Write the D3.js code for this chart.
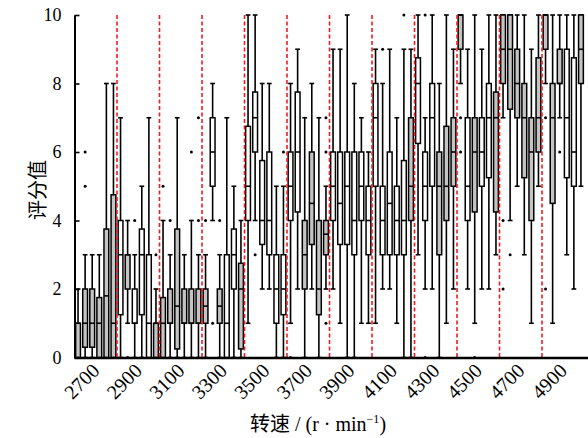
<!DOCTYPE html>
<html>
<head>
<meta charset="utf-8">
<script src="https://cdn.jsdelivr.net/npm/d3@7"></script>
<style>
  body { margin: 0; background: #fff; }
  svg text { font-family: "Liberation Serif", "Noto Sans CJK SC", serif; fill: #000; }
</style>
</head>
<body>
<div id="chart"></div>
<script>
// box statistics, one entry per speed bin (72 bins, 2600-5000 r/min)
let lowW = [0,0,0,0,0,0,0,1,0,0, 0,0,0,0,0,0,0,0,0,4, 0,0,0,0,1,4,2,2,0,0,
            1,2,0,2,0,2,2,1,0,0, 1,1,1,2,2,1,0,0,3,2, 2,0,1,2,8,2,1,2,2,3,
            7,4,5,3,1,5,8,1,7,3, 2,5];
let q1 = [0,0.3,0.3,0,0,0,1.25,2,1,1.25, 0,0,0,1,0.25,1,1,1,1,5, 1,0,2,0.25,4,6,3.3,3,1,1.25,
          4,4.25,2,3.3,1.25,3,4,3.3,3.3,3, 4,3,5,3,3,3,3,4,6.25,4, 5,3,4,5,9,4,4.25,5,5.25,4.25,
          8,7.25,7,5.25,4,6,9,4.5,8,5.25, 5,8];
let med = [1,1,1,1,1.8,1,3,3,1,3, 1,1,1,1,1.5,1,1,1,1.5,6, 1.5,1,3,2,5,7,4,4,2,2,
           5,6,3,4.5,2,3.6,5,4.5,5,4, 5,4,7,4,4.5,4,4,5,8,5, 7,5,5,6,10,5,6,6,7,7,
           9,9,8,7,6,7,10,7,8,7, 6,9];
let q3 = [1,2,2,1.75,3.75,4.75,4,3,2,3.75, 3,1,1.75,2,3.75,2,2,2,2,7, 2,3,3.75,2.75,6.75,7.75,5.75,6,3,3,
          6,7.75,4,6,4,4,6,6,6,6, 6,5,8,5,6,5,5.75,7,8.75,6, 8,6,6.75,7,10,7,7,7,8,7.75,
          10,10,9,8,7,8.75,10,8,9,9, 8.75,10];
let highW = [2,3,3,3,8,8,7,4,3,5, 7,2,4,3,7,3,4,3,3,8, 3,7,5,4,10,10,8,8,5,5,
             8,9,7,8,7,5,9,9,10,8, 7,6,9,8,9,7,9,9,10,7, 10,8,10,9,10,9,10,9,10,10,
             10,10,10,10,9,10,10,10,10,10, 10,10];
let outliers = [[],[5,6],[],[],[],[],[],[0],[4],[], [],[3],[5],[4],[],[],[6],[4,7],[4],[1],
                [4],[],[],[],[],[3],[],[],[],[6], [0],[],[],[],[],[1,6,7],[],[],[],[],
                [],[],[],[9],[],[],[10],[],[],[0,10], [],[],[],[],[6,7],[],[0],[],[],[],
                [2,4],[3],[],[],[],[],[2,7],[],[6],[], [],[]];
// 1 = grey box, 0 = white box
let shaded = [1,1,1,1,1,1,0,1,0,0, 0,1,1,1,1,1,1,1,1,0, 1,0,0,1,0,0,0,0,0,0,
              0,0,1,1,1,1,0,0,0,0, 0,0,0,0,0,0,0,1,0,0, 0,1,1,1,1,0,1,0,0,1,
              1,1,1,1,1,1,1,1,1,0, 0,1];
let tickLabels = ["2700","2900","3100","3300","3500","3700","3900","4100","4300","4500","4700","4900"];
let dividers = [2800, 3000, 3200, 3400, 3600, 3800, 4000, 4200, 4400, 4600, 4800];
let yTicks = [0, 2, 4, 6, 8, 10];

let width = 588, height = 438;
let svg = d3.select("#chart")
            .append("svg")
            .attr("width", width)
            .attr("height", height);

let x = d3.scaleLinear().domain([2600, 5000]).range([74.5, 584.5]);
let y = d3.scaleLinear().domain([0, 10]).range([357.5, 15]);

let step = (5000 - 2600) / med.length;
let boxW = 4.8, capW = 4.8;
let cx = i => x(2600 + (i + 0.5) * step);

// boxes
let g = svg.append("g");
med.forEach(function(m, i){
    let c = cx(i);
    // whiskers
    g.append("line")
     .attr("x1", c).attr("x2", c)
     .attr("y1", y(highW[i])).attr("y2", y(q3[i]))
     .attr("stroke", "#000").attr("stroke-width", 1.6);
    g.append("line")
     .attr("x1", c).attr("x2", c)
     .attr("y1", y(q1[i])).attr("y2", y(lowW[i]))
     .attr("stroke", "#000").attr("stroke-width", 1.6);
    // caps
    [highW[i], lowW[i]].forEach(function(v){
        g.append("line")
         .attr("x1", c - capW / 2).attr("x2", c + capW / 2)
         .attr("y1", y(v)).attr("y2", y(v))
         .attr("stroke", "#000").attr("stroke-width", 1.6);
    });
    // box
    g.append("rect")
     .attr("x", c - boxW / 2)
     .attr("y", y(q3[i]))
     .attr("width", boxW)
     .attr("height", Math.max(y(q1[i]) - y(q3[i]), 0.5))
     .attr("fill", shaded[i] ? "#c4c4c4" : "#fff")
     .attr("stroke", "#000")
     .attr("stroke-width", 1.5);
    // median
    g.append("line")
     .attr("x1", c - boxW / 2).attr("x2", c + boxW / 2)
     .attr("y1", y(m)).attr("y2", y(m))
     .attr("stroke", "#000").attr("stroke-width", 1.6);
    // outliers
    outliers[i].forEach(function(v){
        g.append("circle")
         .attr("cx", c).attr("cy", y(v))
         .attr("r", 1.5)
         .attr("fill", "#000");
    });
});

// red dashed dividers
svg.selectAll(".divider")
   .data(dividers)
   .enter().append("line")
   .attr("class", "divider")
   .attr("x1", d => x(d)).attr("x2", d => x(d))
   .attr("y1", y(10)).attr("y2", y(0))
   .attr("stroke", "#f01c24")
   .attr("stroke-width", 1.6)
   .attr("stroke-dasharray", "4,2.5");

// y axis
let yAxis = svg.append("g")
   .attr("transform", "translate(74.5,0)")
   .call(d3.axisLeft(y).tickValues(yTicks).tickSizeInner(-5).tickSizeOuter(0).tickPadding(13));
yAxis.select(".domain").attr("stroke-width", 2);
yAxis.selectAll(".tick line").attr("stroke-width", 1.6);
yAxis.selectAll("text").style("font-size", "18px");

// x axis line
svg.append("line")
   .attr("x1", 74.5).attr("x2", width)
   .attr("y1", 358).attr("y2", 358)
   .attr("stroke", "#000").attr("stroke-width", 2.4);

// x tick labels
svg.selectAll(".xlab")
   .data(tickLabels)
   .enter().append("text")
   .attr("class", "xlab")
   .attr("transform", d => "translate(" + x(+d) + ",367) rotate(-45)")
   .attr("text-anchor", "end")
   .attr("dy", "0.35em")
   .style("font-size", "20px")
   .text(d => d);

// axis titles
svg.append("text")
   .attr("transform", "translate(45,190) rotate(-90)")
   .attr("text-anchor", "middle")
   .style("font-size", "20px")
   .text("评分值");

let xt = svg.append("text")
   .attr("x", 318).attr("y", 431)
   .attr("text-anchor", "middle")
   .style("font-size", "20px");
xt.append("tspan").text("转速 / (r · min");
xt.append("tspan").attr("dy", -8).style("font-size", "12px").text("−1");
xt.append("tspan").attr("dy", 8).text(")");
</script>
</body>
</html>
